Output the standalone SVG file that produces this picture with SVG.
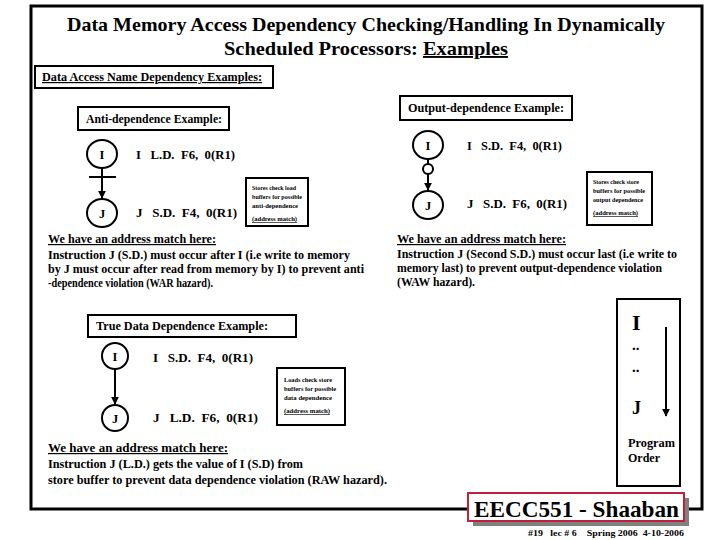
<svg xmlns="http://www.w3.org/2000/svg" width="720" height="540" viewBox="0 0 720 540">
<style>
text{font-family:"Liberation Serif","Times New Roman",serif;font-weight:bold;fill:#000}
.title{font-size:19px}
.hdr{font-size:12px}
.body{font-size:12px}
.ins{font-size:12.5px}
.tiny{font-size:6.5px}
.node{fill:#fff;stroke:#000;stroke-width:2}
.box{fill:#fff;stroke:#000;stroke-width:2}
.edge{stroke:#000;stroke-width:2;fill:none}
.u{text-decoration:underline}
</style>
<defs>
<marker id="ah" viewBox="0 0 10 10" refX="9" refY="5" markerWidth="4" markerHeight="4" orient="auto" markerUnits="strokeWidth">
<path d="M0,0 L10,5 L0,10 z" fill="#000"/>
</marker>
</defs>
<rect x="0" y="0" width="720" height="540" fill="#fff"/>
<!-- frame -->
<rect x="31" y="6" width="671" height="503" fill="none" stroke="#000" stroke-width="3"/>
<!-- title -->
<g id="title">
<text class="title" x="366" y="31" text-anchor="middle" textLength="598" lengthAdjust="spacingAndGlyphs">Data Memory Access Dependency Checking/Handling In Dynamically</text>
<text class="title" x="224" y="55" textLength="284" lengthAdjust="spacingAndGlyphs">Scheduled Processors:  <tspan class="u">Examples</tspan></text>
</g>
<g id="section-header">
<rect class="box" x="35" y="66" width="238" height="22"/>
<text class="hdr u" x="42" y="81" textLength="220" lengthAdjust="spacingAndGlyphs">Data Access Name Dependency Examples:</text>
</g>
<!-- Anti-dependence -->
<g id="anti-label">
<rect class="box" x="78" y="107" width="151" height="23"/>
<text class="hdr" x="86" y="123" textLength="136" lengthAdjust="spacingAndGlyphs">Anti-dependence Example:</text>
</g>
<g id="anti-I">
<ellipse class="node" cx="102" cy="154" rx="15" ry="14"/>
<text class="ins" x="102" y="159" text-anchor="middle">I</text>
</g>
<g id="anti-J">
<ellipse class="node" cx="102" cy="213" rx="15" ry="14"/>
<text class="ins" x="102" y="218" text-anchor="middle">J</text>
</g>
<g id="anti-code">
<text class="ins" x="136" y="159" xml:space="preserve" textLength="99" lengthAdjust="spacingAndGlyphs">I   L.D.  F6,  0(R1)</text>
<text class="ins" x="136" y="217" xml:space="preserve" textLength="101" lengthAdjust="spacingAndGlyphs">J   S.D.  F4,  0(R1)</text>
</g>
<g id="anti-note">
<rect class="box" x="246" y="178" width="62" height="48"/>
<text class="tiny" x="252" y="190" textLength="44" lengthAdjust="spacingAndGlyphs">Stores check load</text>
<text class="tiny" x="252" y="199" textLength="50" lengthAdjust="spacingAndGlyphs">buffers for possible</text>
<text class="tiny" x="252" y="208" textLength="46" lengthAdjust="spacingAndGlyphs">anti-dependence</text>
<text class="tiny u" x="252" y="221" textLength="45" lengthAdjust="spacingAndGlyphs">(address match)</text>
</g>
<g id="anti-text">
<text class="body u" x="48" y="243" textLength="168" lengthAdjust="spacingAndGlyphs">We have an address match here:</text>
<text class="body" x="48" y="259" textLength="302" lengthAdjust="spacingAndGlyphs">Instruction J (S.D.) must occur after I (i.e write to memory</text>
<text class="body" x="48" y="273" textLength="316" lengthAdjust="spacingAndGlyphs">by J must occur after read from memory by I) to prevent anti</text>
<text class="body" x="48" y="287" textLength="165" lengthAdjust="spacingAndGlyphs">-dependence violation (WAR hazard).</text>
</g>
<!-- Output-dependence -->
<g id="out-label">
<rect class="box" x="400" y="96" width="172" height="24"/>
<text class="hdr" x="408" y="112" textLength="156" lengthAdjust="spacingAndGlyphs">Output-dependence Example:</text>
</g>
<g id="out-I">
<ellipse class="node" cx="428" cy="145" rx="15" ry="14"/>
<text class="ins" x="428" y="150" text-anchor="middle">I</text>
</g>
<g id="out-J">
<ellipse class="node" cx="428" cy="205" rx="15" ry="14"/>
<text class="ins" x="428" y="210" text-anchor="middle">J</text>
</g>
<g id="out-code">
<text class="ins" x="467" y="150" xml:space="preserve" textLength="95" lengthAdjust="spacingAndGlyphs">I   S.D.  F4,  0(R1)</text>
<text class="ins" x="467" y="208" xml:space="preserve" textLength="100" lengthAdjust="spacingAndGlyphs">J   S.D.  F6,  0(R1)</text>
</g>
<g id="out-note">
<rect class="box" x="587" y="172" width="65" height="53"/>
<text class="tiny" x="593" y="184" textLength="46" lengthAdjust="spacingAndGlyphs">Stores check store</text>
<text class="tiny" x="593" y="193" textLength="52" lengthAdjust="spacingAndGlyphs">buffers for possible</text>
<text class="tiny" x="593" y="202" textLength="50" lengthAdjust="spacingAndGlyphs">output dependence</text>
<text class="tiny u" x="593" y="215" textLength="45" lengthAdjust="spacingAndGlyphs">(address match)</text>
</g>
<g id="out-text">
<text class="body u" x="397" y="243" textLength="169" lengthAdjust="spacingAndGlyphs">We have an address match here:</text>
<text class="body" x="397" y="258" textLength="280" lengthAdjust="spacingAndGlyphs">Instruction J (Second S.D.) must occur last (i.e write to</text>
<text class="body" x="397" y="272" textLength="265" lengthAdjust="spacingAndGlyphs">memory last) to prevent output-dependence violation</text>
<text class="body" x="397" y="286" textLength="78" lengthAdjust="spacingAndGlyphs">(WAW hazard).</text>
</g>
<!-- True data dependence -->
<g id="true-label">
<rect class="box" x="88" y="315" width="208" height="22"/>
<text class="hdr" x="96" y="330" textLength="172" lengthAdjust="spacingAndGlyphs">True Data Dependence Example:</text>
</g>
<g id="true-I">
<ellipse class="node" cx="115" cy="356" rx="13" ry="13"/>
<text class="ins" x="115" y="361" text-anchor="middle">I</text>
</g>
<g id="true-J">
<ellipse class="node" cx="115" cy="418" rx="13" ry="13"/>
<text class="ins" x="115" y="423" text-anchor="middle">J</text>
</g>
<g id="true-code">
<text class="ins" x="153" y="362" xml:space="preserve" textLength="100" lengthAdjust="spacingAndGlyphs">I   S.D.  F4,  0(R1)</text>
<text class="ins" x="153" y="422" xml:space="preserve" textLength="105" lengthAdjust="spacingAndGlyphs">J   L.D.  F6,  0(R1)</text>
</g>
<g id="true-note">
<rect class="box" x="277" y="368" width="68" height="57"/>
<text class="tiny" x="284" y="382" textLength="48" lengthAdjust="spacingAndGlyphs">Loads check store</text>
<text class="tiny" x="284" y="391" textLength="52" lengthAdjust="spacingAndGlyphs">buffers for possible</text>
<text class="tiny" x="284" y="400" textLength="48" lengthAdjust="spacingAndGlyphs">data dependence</text>
<text class="tiny u" x="284" y="413" textLength="46" lengthAdjust="spacingAndGlyphs">(address match)</text>
</g>
<g id="true-text">
<text class="body u" x="48" y="452" textLength="180" lengthAdjust="spacingAndGlyphs">We have an address match here:</text>
<text class="body" x="48" y="468" textLength="255" lengthAdjust="spacingAndGlyphs">Instruction J (L.D.)  gets the value of I (S.D) from</text>
<text class="body" x="48" y="484" textLength="339" lengthAdjust="spacingAndGlyphs">store buffer to prevent data dependence violation (RAW hazard).</text>
</g>
<!-- program order -->
<g id="program-order">
<rect class="box" x="617" y="299" width="63" height="187"/>
<text x="632" y="330" style="font-size:22px">I</text>
<text x="632" y="350" style="font-size:15px">..</text>
<text x="632" y="372" style="font-size:15px">..</text>
<text x="632" y="414" style="font-size:18px">J</text>
<text x="628" y="447" style="font-size:12px" textLength="47" lengthAdjust="spacingAndGlyphs">Program</text>
<text x="628" y="462" style="font-size:12px">Order</text>
</g>
<!-- connectors -->
<g id="connectors">
<line class="edge" x1="102" y1="168" x2="102" y2="198" marker-end="url(#ah)"/>
<line class="edge" x1="89" y1="177" x2="116" y2="177"/>
<line class="edge" x1="428" y1="159" x2="428" y2="190" marker-end="url(#ah)"/>
<circle cx="428" cy="169" r="5" fill="#fff" stroke="#000" stroke-width="2"/>
<line class="edge" x1="115" y1="369" x2="115" y2="404" marker-end="url(#ah)"/>
<line class="edge" x1="666" y1="327" x2="666" y2="416" marker-end="url(#ah)"/>
</g>
<!-- footer -->
<g id="footer">
<rect x="473" y="498" width="216" height="28" fill="#808080"/>
<rect x="468" y="493" width="216" height="28" fill="#fff" stroke="#c0203a" stroke-width="2"/>
<text x="474" y="517" style="font-size:24px" textLength="205" lengthAdjust="spacingAndGlyphs">EECC551 - Shaaban</text>
<text x="528" y="536" style="font-size:9px" xml:space="preserve" textLength="156" lengthAdjust="spacingAndGlyphs">#19   lec # 6    Spring 2006  4-10-2006</text>
</g>
</svg>
